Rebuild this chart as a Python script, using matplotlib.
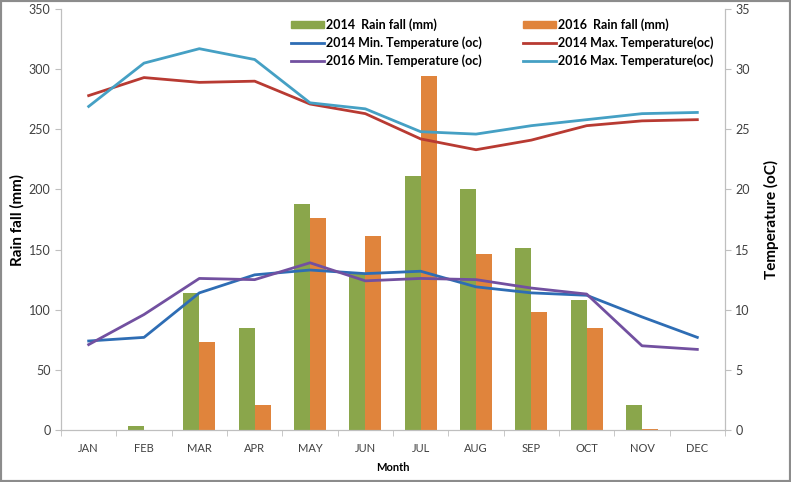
import numpy as np
import matplotlib
matplotlib.use('Agg')
import matplotlib.pyplot as plt
from matplotlib.patches import Rectangle, Patch
from matplotlib.lines import Line2D

plt.rcParams['font.family'] = ['Lato', 'DejaVu Sans']

# data
months = ['JAN', 'FEB', 'MAR', 'APR', 'MAY', 'JUN', 'JUL', 'AUG', 'SEP', 'OCT', 'NOV', 'DEC']
rain_2014 = [0, 3, 114, 85, 188, 130, 211, 200, 151, 108, 21, 0]
rain_2016 = [0, 0, 73, 21, 176, 161, 294, 146, 98, 85, 1, 0]
tmin_2014 = [7.4, 7.7, 11.4, 12.9, 13.3, 13.0, 13.2, 11.9, 11.4, 11.2, 9.4, 7.7]
tmax_2014 = [27.8, 29.3, 28.9, 29.0, 27.1, 26.3, 24.2, 23.3, 24.1, 25.3, 25.7, 25.8]
tmin_2016 = [7.1, 9.6, 12.6, 12.5, 13.9, 12.4, 12.6, 12.5, 11.8, 11.3, 7.0, 6.7]
tmax_2016 = [26.9, 30.5, 31.7, 30.8, 27.2, 26.7, 24.8, 24.6, 25.3, 25.8, 26.3, 26.4]

green = '#8aa64b'
orange = '#e0843c'
blue = '#2e6db4'
red = '#b83a32'
purple = '#7250a0'
cyan = '#45a0c4'
grey = '#bfbfbf'

fig = plt.figure(figsize=(7.91, 4.82), dpi=100)
ax = fig.add_axes([61 / 791, 1 - 430 / 482, 664 / 791, 421 / 482])
ax2 = ax.twinx()

x = np.arange(len(months))
w = 0.29
ax.bar(x - w / 2, rain_2014, w, color=green)
ax.bar(x + w / 2, rain_2016, w, color=orange)

ax2.plot(x, tmin_2014, color=blue, lw=2)
ax2.plot(x, tmax_2014, color=red, lw=2)
ax2.plot(x, tmin_2016, color=purple, lw=2)
ax2.plot(x, tmax_2016, color=cyan, lw=2)

ax.set_xlim(-0.5, 11.5)
ax.set_ylim(0, 350)
ax.set_yticks(np.arange(0, 351, 50))
ax2.set_ylim(0, 35)
ax2.set_yticks(np.arange(0, 36, 5))

ax.set_xticks(x)
ax.set_xticklabels(months)
ax.set_xticks(np.arange(-0.5, 12, 1), minor=True)
ax.tick_params(axis='x', which='major', length=0, pad=9, labelsize=8, colors='#404040')
ax.tick_params(axis='x', which='minor', length=4, color=grey)
ax.tick_params(axis='y', length=4, color=grey, labelsize=9, labelcolor='#404040')
ax2.tick_params(axis='y', length=4, color=grey, labelsize=9, labelcolor='#404040')

for a in (ax, ax2):
    a.spines['top'].set_visible(False)
    for s in ('left', 'right', 'bottom'):
        a.spines[s].set_color(grey)

ax.set_ylabel('Rain fall (mm)', fontsize=11, fontweight='bold', labelpad=3)
ax2.set_ylabel('Temperature (oC)', fontsize=11, fontweight='bold', labelpad=10)
ax.set_xlabel('Month', fontsize=8, fontweight='bold', labelpad=6)

handles = [
    Patch(color=green), Line2D([], [], color=blue, lw=2), Line2D([], [], color=purple, lw=2),
    Patch(color=orange), Line2D([], [], color=red, lw=2), Line2D([], [], color=cyan, lw=2),
]
labels = [
    '2014  Rain fall (mm)', '2014 Min. Temperature (oc)', '2016 Min. Temperature (oc)',
    '2016  Rain fall (mm)', '2014 Max. Temperature(oc)', '2016 Max. Temperature(oc)',
]
ax2.legend(handles, labels, ncol=2, frameon=False, loc='upper left',
           bbox_to_anchor=(0.33, 1.005), prop={'size': 9, 'weight': 'bold'},
           handlelength=2.6, handleheight=0.5, handletextpad=0.2,
           columnspacing=3.3, labelspacing=0.45)

fig.patches.append(Rectangle((0, 0), 1, 1, transform=fig.transFigure,
                             fill=False, edgecolor='#8c8c8c', lw=3))

fig.savefig('out.png', dpi=100)
